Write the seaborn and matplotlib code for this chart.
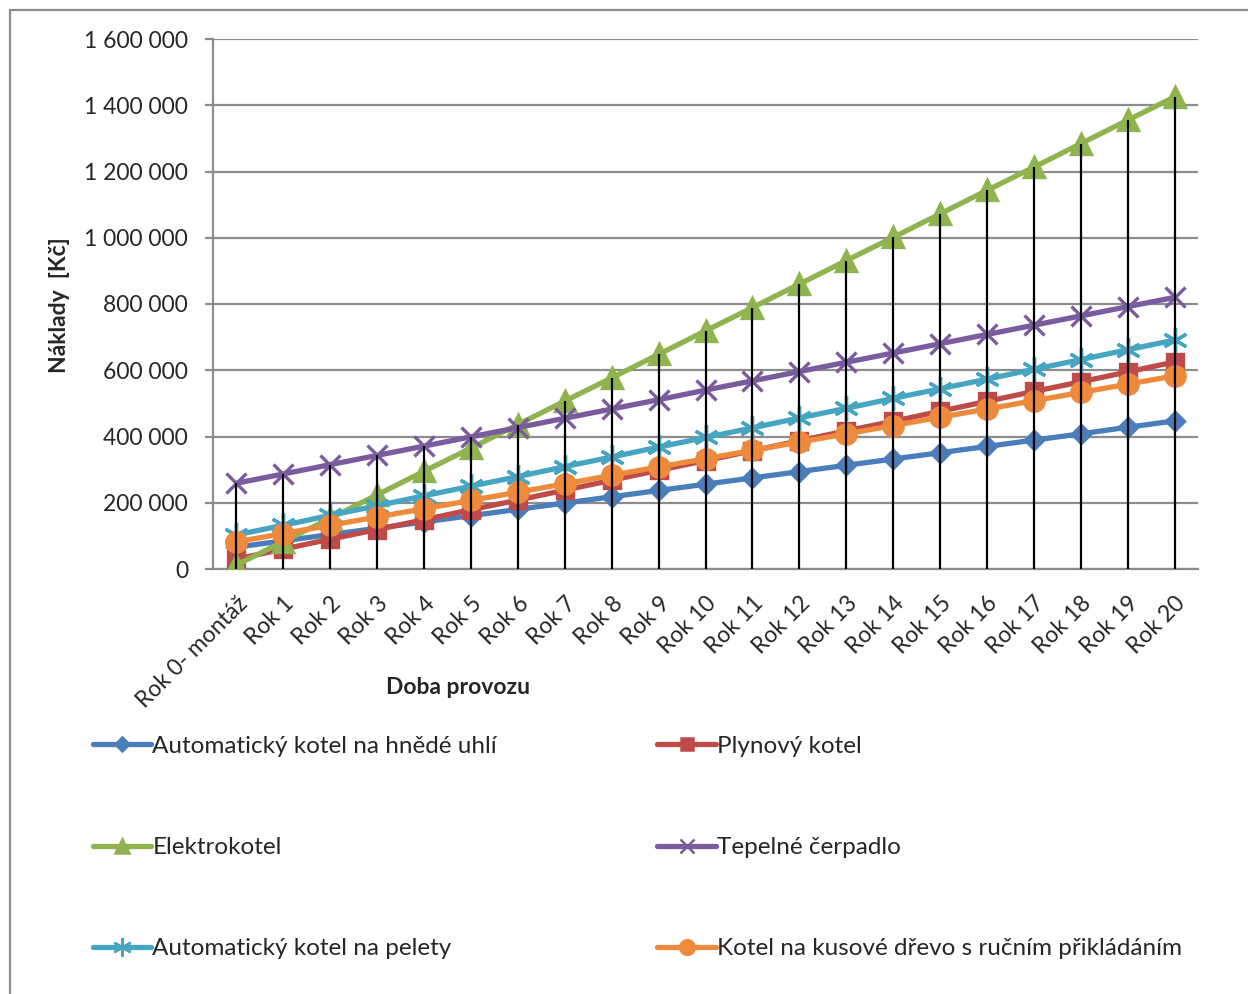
import matplotlib
matplotlib.use("Agg")
import matplotlib.pyplot as plt
from matplotlib.lines import Line2D
from matplotlib.patches import Rectangle
from matplotlib.ticker import FuncFormatter, MultipleLocator
import numpy as np
import pandas as pd
import seaborn as sns

# Categories (years of operation)
years = ["Rok 0- montáž"] + [f"Rok {i}" for i in range(1, 21)]

# Cumulative costs in CZK for each heating system
uhli = [66000, 85000, 104000, 123000, 142000, 161000, 180000, 199000, 218000, 237000,
        256000, 275000, 294000, 313000, 332000, 351000, 370000, 389000, 408000, 428000, 447000]
plyn = [30000, 60000, 90000, 119000, 149000, 179000, 208000, 238000, 268000, 298000,
        327000, 357000, 387000, 417000, 446000, 476000, 506000, 536000, 565000, 595000, 625000]
elektro = [12000, 83000, 153000, 224000, 295000, 365000, 436000, 507000, 577000, 648000,
           719000, 789000, 860000, 931000, 1001000, 1072000, 1143000, 1213000, 1284000, 1355000, 1425000]
cerpadlo = [259000, 287000, 315000, 343000, 371000, 399000, 427000, 455000, 483000, 511000,
            540000, 568000, 596000, 624000, 652000, 680000, 708000, 736000, 764000, 792000, 820000]
pelety = [103000, 132000, 162000, 191000, 221000, 250000, 279000, 309000, 338000, 368000,
          397000, 426000, 456000, 485000, 515000, 544000, 573000, 603000, 632000, 662000, 691000]
drevo = [82000, 107000, 132000, 157000, 182000, 207000, 232000, 257000, 283000, 308000,
         333000, 358000, 383000, 408000, 433000, 458000, 483000, 508000, 533000, 558000, 583000]

series_names = [
    "Automatický kotel na hnědé uhlí",
    "Plynový kotel",
    "Elektrokotel",
    "Tepelné čerpadlo",
    "Automatický kotel na pelety",
    "Kotel na kusové dřevo s ručním přikládáním",
]
series_values = [uhli, plyn, elektro, cerpadlo, pelety, drevo]

colors = ["#4A7EBB", "#BE4B48", "#8EB34F", "#7A5B9E", "#46A5C0", "#EE8A3C"]
markers = ["D", "s", "^", "x", (6, 2, 0), "o"]
msizes = [9.5, 12, 14, 14, 18, 14]

sns.set_theme(style="white")
plt.rcParams["font.family"] = ["Lato", "DejaVu Sans"]

fig = plt.figure(figsize=(12.48, 9.94), dpi=100)
ax = fig.add_axes([213 / 1248, 1 - 569 / 994, (1198 - 213) / 1248, (569 - 39) / 994])

df = pd.DataFrame({"x": np.arange(len(years))})
for name, vals in zip(series_names, series_values):
    df[name] = vals

for name, col, mk, ms in zip(series_names, colors, markers, msizes):
    sns.lineplot(data=df, x="x", y=name, ax=ax, color=col, lw=3.8, marker=mk,
                 markersize=ms, markeredgecolor=col, markerfacecolor=col,
                 markeredgewidth=2.4, zorder=3, legend=False)

# Drop lines from the highest series down to the axis
tops = df[series_names].max(axis=1)
ax.vlines(df["x"], 0, tops, color="black", lw=1.6, zorder=6)

ax.set_xlim(-0.5, len(years) - 0.5)
ax.set_ylim(0, 1600000)
ax.yaxis.set_major_locator(MultipleLocator(200000))
ax.yaxis.set_major_formatter(FuncFormatter(lambda v, p: f"{int(v):,}".replace(",", " ")))
ax.grid(axis="y", color="#8C8C8C", lw=1.6, zorder=0)
ax.set_axisbelow(True)

for s in ["top", "right"]:
    ax.spines[s].set_visible(False)
for s in ["left", "bottom"]:
    ax.spines[s].set_color("#8C8C8C")
    ax.spines[s].set_linewidth(1.6)

ax.set_xticks(df["x"])
ax.set_xticklabels(years, rotation=45, ha="right", rotation_mode="anchor", fontsize=16.5)
ax.tick_params(axis="x", length=0, pad=17)
ax.tick_params(axis="y", length=6, width=1.6, color="#8C8C8C", pad=12, labelsize=16.5, left=True)
ax.set_xlabel("")
ax.set_ylabel("")

fig.text(60 / 1248, 1 - 305 / 994, "Náklady  [Kč]", rotation=90, ha="center", va="center",
         fontsize=16.5, fontweight="bold")
fig.text(458 / 1248, 1 - 688 / 994, "Doba provozu", ha="center", va="center",
         fontsize=16.5, fontweight="bold")

# Legend laid out column by column
order = [0, 2, 4, 1, 3, 5]
handles = [Line2D([], [], color=colors[i], lw=3.8, marker=markers[i], markersize=msizes[i] * 0.75,
                  markeredgecolor=colors[i], markerfacecolor=colors[i], markeredgewidth=1.8)
           for i in order]
labels = [series_names[i] for i in order]
fig.legend(handles, labels, ncol=2, loc="upper left", bbox_to_anchor=(71 / 1248, 1 - 714 / 994),
           frameon=False, fontsize=17.5, handlelength=2.4, handletextpad=0.05,
           labelspacing=3.3, columnspacing=6.6)

fig.patches.append(Rectangle((10 / 1248, -0.1), 2, 1.1 - 10 / 994, transform=fig.transFigure,
                             fill=False, edgecolor="#8C8C8C", lw=1.6))

fig.savefig("out.png", dpi=100, facecolor="white")
